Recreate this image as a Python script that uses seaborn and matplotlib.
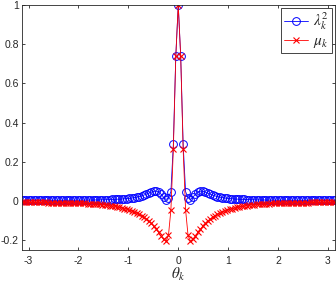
import numpy as np
import pandas as pd
import matplotlib
matplotlib.use('Agg')
import matplotlib.pyplot as plt
import seaborn as sns

# values for k = 0..64 (theta >= 0); the curves are symmetric about theta = 0
lam_right = [1.0, 0.74, 0.29, 0.048, 0.017, 0.008, 0.02, 0.035, 0.046, 0.051,
             0.05, 0.046, 0.041, 0.036, 0.031, 0.027, 0.023, 0.020, 0.018, 0.016,
             0.014, 0.013, 0.012, 0.011, 0.010, 0.0095, 0.009, 0.0085, 0.008, 0.0075,
             0.007, 0.0068, 0.0065, 0.0062, 0.006, 0.0058, 0.0056, 0.0054, 0.0052, 0.005,
             0.0049, 0.0048, 0.0047, 0.0046, 0.0045, 0.0044, 0.0043, 0.0043, 0.0042, 0.0042,
             0.0042, 0.0041, 0.0041, 0.0041, 0.0041, 0.004, 0.004, 0.004, 0.004, 0.004,
             0.004, 0.004, 0.004, 0.004, 0.004]
mu_right = [1.0, 0.74, 0.265, -0.045, -0.175, -0.205, -0.195, -0.178, -0.16, -0.143,
            -0.128, -0.114, -0.102, -0.091, -0.082, -0.074, -0.067, -0.061, -0.055, -0.050,
            -0.046, -0.042, -0.038, -0.035, -0.032, -0.029, -0.027, -0.025, -0.023, -0.021,
            -0.019, -0.018, -0.017, -0.016, -0.015, -0.014, -0.013, -0.0125, -0.012, -0.0115,
            -0.011, -0.0105, -0.010, -0.0095, -0.009, -0.0088, -0.0085, -0.0082, -0.008, -0.0078,
            -0.0076, -0.0074, -0.0072, -0.0071, -0.007, -0.0069, -0.0068, -0.0067, -0.0066, -0.0065,
            -0.0064, -0.0063, -0.0062, -0.0061, -0.006]

lam = lam_right[:0:-1] + lam_right
mu = mu_right[:0:-1] + mu_right
theta = np.linspace(-np.pi, np.pi, len(lam))

df = pd.DataFrame({'theta': theta, 'lam': lam, 'mu': mu})

sns.set_style('ticks')
plt.rcParams['font.family'] = ['Liberation Sans', 'DejaVu Sans']
plt.rcParams['mathtext.fontset'] = 'stix'

fig = plt.figure(figsize=(3.36, 2.82), dpi=100)
ax = fig.add_axes([0.064, 0.113, 0.933, 0.869])

sns.lineplot(x='theta', y='lam', data=df, ax=ax, color='b', lw=0.6,
             marker='o', markersize=5.6, markerfacecolor='none',
             markeredgecolor='b', markeredgewidth=0.7, label=r'$\lambda_k^2$')
sns.lineplot(x='theta', y='mu', data=df, ax=ax, color='r', lw=0.6,
             marker='x', markersize=5, markeredgecolor='r',
             markeredgewidth=0.8, label=r'$\mu_k$')

ax.set_xlim(-np.pi, np.pi)
ax.set_ylim(-0.25, 1)
ax.set_xticks([-3, -2, -1, 0, 1, 2, 3])
ax.set_yticks([-0.2, 0, 0.2, 0.4, 0.6, 0.8, 1])
ax.set_yticklabels(['-0.2', '0', '0.2', '0.4', '0.6', '0.8', '1'])
ax.set_xticklabels(['-3', '-2', '-1', '0', '1', '2', '3'])
ax.tick_params(direction='in', length=2.5, width=0.6, labelsize=7.5,
               colors='#262626', top=True, right=True)
ax.tick_params(axis='x', pad=4)
ax.tick_params(axis='y', pad=2)
for s in ax.spines.values():
    s.set_color('#262626')
    s.set_linewidth(0.6)
ax.set_xlabel(r'$\theta_k$', fontsize=11, labelpad=0)
ax.set_ylabel('')

leg = ax.legend(loc='upper right', fontsize=11, frameon=True, fancybox=False,
                edgecolor='#262626', framealpha=1, borderpad=0.2,
                handlelength=1.6, handletextpad=0.3, labelspacing=0.1,
                borderaxespad=0.2)
leg.get_frame().set_linewidth(0.6)

fig.savefig('out.png', dpi=100)
